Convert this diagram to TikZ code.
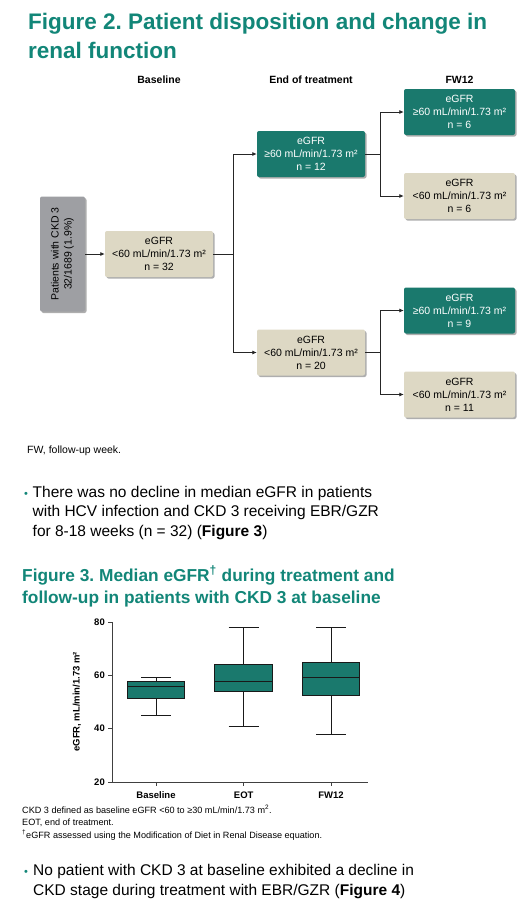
\documentclass[tikz,border=0pt]{standalone}
\usepackage[svgnames]{xcolor}
\usepackage{fontspec}
\setmainfont{Liberation Sans}
\usetikzlibrary{positioning,shadows,arrows.meta}
\frenchspacing

\definecolor{TitleTeal}{RGB}{18,134,120}
\definecolor{BoxTeal}{RGB}{26,121,109}
\definecolor{BoxBeige}{RGB}{221,216,196}
\definecolor{BoxGray}{RGB}{158,159,163}

\tikzset{
  flowbox/.style={rounded corners=2pt, minimum width=108pt, minimum height=46pt, inner sep=0pt,
    align=center, font=\fontsize{10.5}{13}\selectfont,
    drop shadow={shadow xshift=1.5pt, shadow yshift=-1.5pt, opacity=0.45, fill=black!70}},
  highbox/.style={flowbox, fill=BoxTeal, text=white},
  lowbox/.style={flowbox, fill=BoxBeige, text=black},
  link/.style={draw=black!85, line width=0.8pt, -{Latex[length=4.5pt,width=4pt]}},
  branch/.style={draw=black!85, line width=0.8pt},
  header/.style={anchor=base, font=\fontsize{10.5}{13}\selectfont\bfseries},
  figtitle/.style={anchor=base west, align=left, text=TitleTeal, inner sep=0pt},
  bodytext/.style={anchor=base west, align=left, inner sep=0pt, font=\fontsize{15.5}{19.7}\selectfont},
  dot/.style={anchor=base west, inner sep=0pt, text=TitleTeal, font=\fontsize{11}{13}\selectfont},
  smalltext/.style={anchor=base west, align=left, inner sep=0pt},
  whisker/.style={line width=0.9pt, draw=black!90},
  ticklabel/.style={font=\fontsize{9.5}{11}\selectfont\bfseries, inner sep=0pt}
}

\begin{document}
\begin{tikzpicture}[x=1pt, y=-1pt]

    %Page
    \fill[white] (0,0) rectangle (531,914);
    \useasboundingbox (0,0) rectangle (531,914);

    %Figure 2 title (placed at the baseline of its last line)
    \node[figtitle, font=\fontsize{22.5}{29.5}\selectfont\bfseries] (title2) at (28,58.5)
      {Figure 2. Patient disposition and change in\\renal function};

    %Column headers
    \node[header] (hBase) at (159,83) {Baseline};
    \node[header] (hEot) at (311,83) {End of treatment};
    \node[header] (hFw) at (459.5,83) {FW12};

    %Boxes
    \node[flowbox, fill=BoxGray, rotate=90, minimum width=115pt, minimum height=45pt] (pat) at (62.5,254)
      {Patients with CKD 3\\32/1689 (1.9\%)};
    \node[lowbox] (base) at (159,254) {eGFR\\<60 mL/min/1.73 m²\\n = 32};
    \node[highbox] (eotA) at (311,154) {eGFR\\≥60 mL/min/1.73 m²\\n = 12};
    \node[lowbox] (eotB) at (311,352.5) {eGFR\\<60 mL/min/1.73 m²\\n = 20};
    \node[highbox, minimum width=111pt] (fwA) at (459.5,112) {eGFR\\≥60 mL/min/1.73 m²\\n = 6};
    \node[lowbox, minimum width=111pt] (fwB) at (459.5,196) {eGFR\\<60 mL/min/1.73 m²\\n = 6};
    \node[highbox, minimum width=111pt] (fwC) at (459.5,310.5) {eGFR\\≥60 mL/min/1.73 m²\\n = 9};
    \node[lowbox, minimum width=111pt] (fwD) at (459.5,394.5) {eGFR\\<60 mL/min/1.73 m²\\n = 11};

    %Connectors
    \coordinate (br1) at (233,254);
    \coordinate (br2) at (380,154);
    \coordinate (br3) at (380,352.5);
    \draw[link] (pat) -- (base);
    \draw[branch] (base) -- (br1);
    \draw[link] (br1) |- (eotA);
    \draw[link] (br1) |- (eotB);
    \draw[branch] (eotA) -- (br2);
    \draw[link] (br2) |- (fwA);
    \draw[link] (br2) |- (fwB);
    \draw[branch] (eotB) -- (br3);
    \draw[link] (br3) |- (fwC);
    \draw[link] (br3) |- (fwD);

    %Footnote figure 2
    \node[smalltext, font=\fontsize{10.5}{13}\selectfont] (fn1) at (27,453) {FW, follow-up week.};

    %Bullet 1
    \node[dot] (dot1) at (24,497) {•};
    \node[bodytext] (bul1) at (32.5,536.4)
      {There was no decline in median eGFR in patients\\with HCV infection and CKD 3 receiving EBR/GZR\\for 8-18 weeks (n = 32) (\textbf{Figure 3})};

    %Figure 3 title
    \node[figtitle, font=\fontsize{17.3}{22.5}\selectfont\bfseries] (title3) at (22,603.5)
      {Figure 3. Median eGFR\textsuperscript{†} during treatment and\\follow-up in patients with CKD 3 at baseline};

    %Box plot
    \begin{scope}[yshift=-835.33pt, y=2.6667pt]
      %Axes
      \draw[line width=0.9pt, draw=black!75] (112.7,80) -- (112.7,20) -- (368,20);
      \foreach \v in {20,40,60,80}{
        \draw[line width=0.9pt, draw=black!75] (108,\v) -- (112.7,\v);
        \node[ticklabel, anchor=east] (tick\v) at (105,\v) {\v};
      }
      \foreach \cx/\nm/\lbl in {156/xBase/Baseline, 243.7/xEot/EOT, 331/xFw/FW12}{
        \draw[line width=0.9pt, draw=black!75] (\cx,20) -- (\cx,18.4);
        \node[ticklabel, anchor=base] (\nm) at (\cx,14) {\lbl};
      }
      \node[ticklabel, rotate=90] (ylab) at (77,50.1) {eGFR, mL/min/1.73 m²};
      %Boxes and whiskers
      \foreach \cx/\lo/\qa/\md/\qb/\hi in {156/45/51.4/55.7/57.8/59.1, 243.7/41/54.1/57.8/63.9/78.1, 331/38/52.6/59.3/64.9/78.1}{
        \draw[whisker] (\cx,\lo) -- (\cx,\hi);
        \draw[whisker] (\cx-15,\lo) -- (\cx+15,\lo);
        \draw[whisker] (\cx-15,\hi) -- (\cx+15,\hi);
        \filldraw[fill=BoxTeal, draw=black!90, line width=1pt] (\cx-28.8,\qa) rectangle (\cx+28.8,\qb);
        \draw[line width=1pt, draw=black!90] (\cx-28.8,\md) -- (\cx+28.8,\md);
      }
    \end{scope}

    %Footnotes figure 3
    \node[smalltext, font=\fontsize{9.1}{12.6}\selectfont] (fn2) at (22,838.2)
      {CKD 3 defined as baseline eGFR <60 to ≥30 mL/min/1.73 m\textsuperscript{2}.\\EOT, end of treatment.\\\textsuperscript{†}eGFR assessed using the Modification of Diet in Renal Disease equation.};

    %Bullet 2
    \node[dot] (dot2) at (24,875) {•};
    \node[bodytext, font=\fontsize{15.5}{20.5}\selectfont] (bul2) at (33,895.5)
      {No patient with CKD 3 at baseline exhibited a decline in\\CKD stage during treatment with EBR/GZR (\textbf{Figure 4})};

\end{tikzpicture}
\end{document}
